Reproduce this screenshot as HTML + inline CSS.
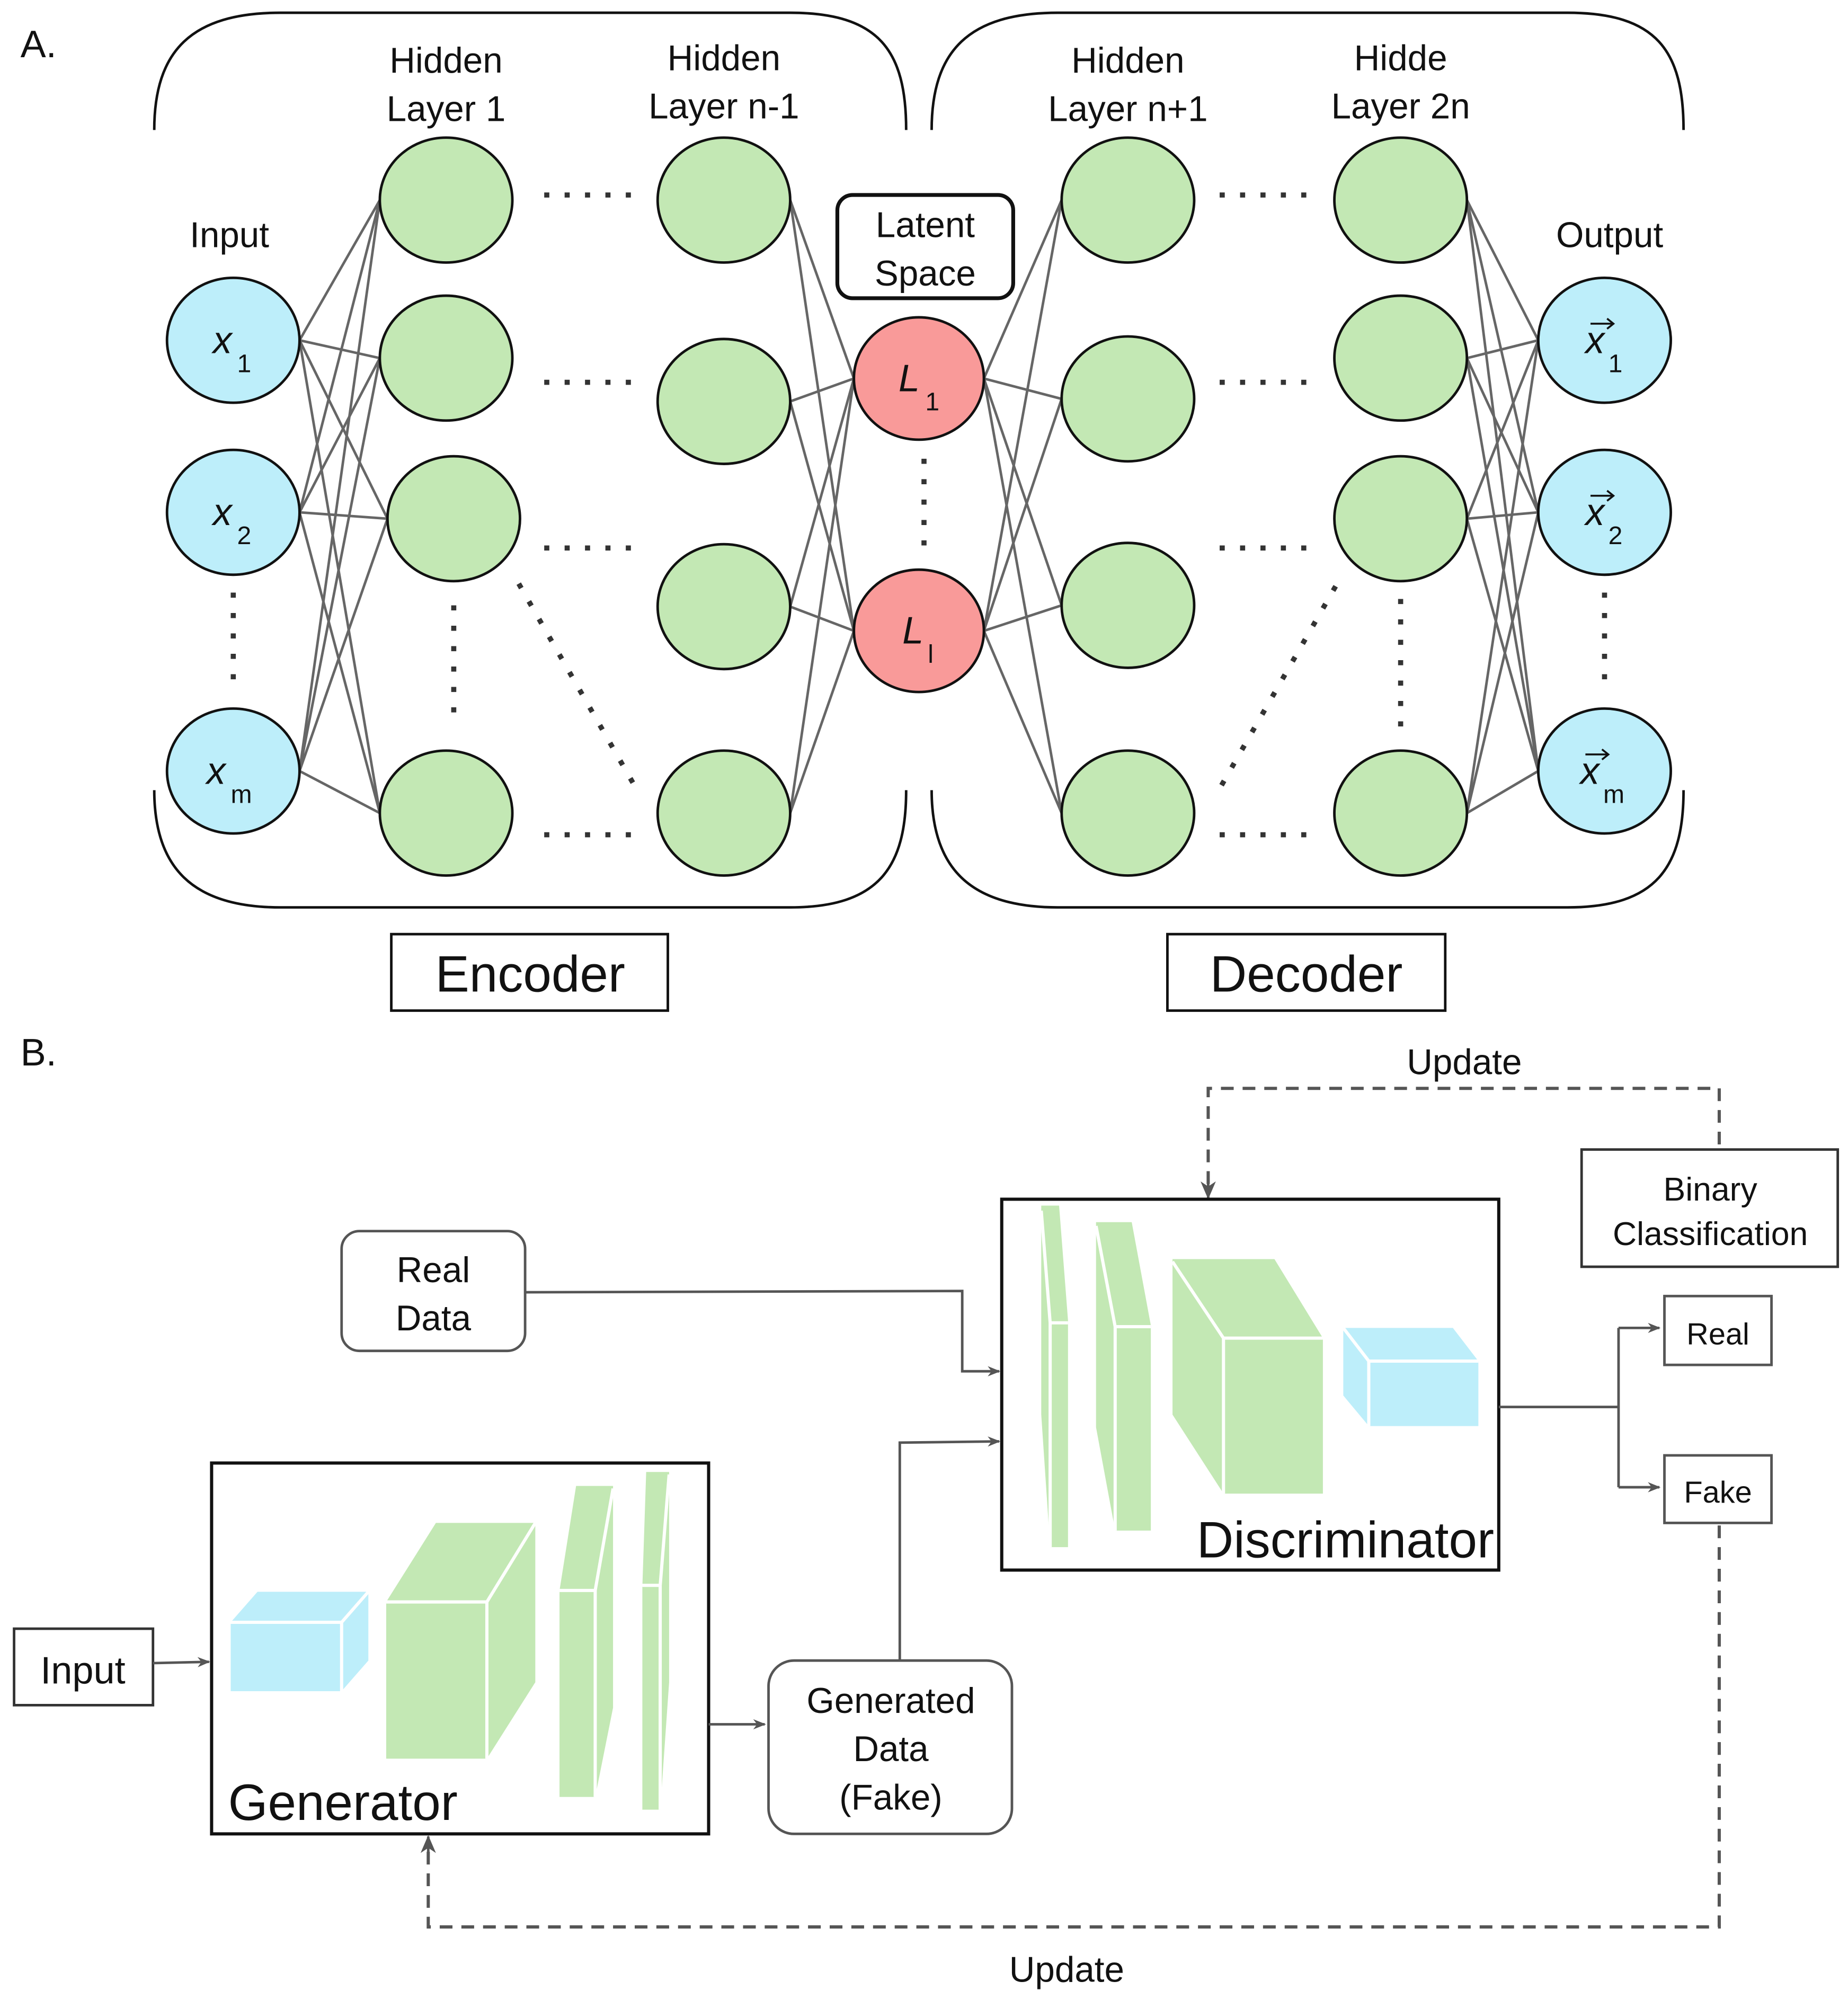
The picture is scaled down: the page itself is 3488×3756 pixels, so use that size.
<!DOCTYPE html>
<html><head><meta charset="utf-8"><style>
html,body{margin:0;padding:0;background:#fff;}
svg{display:block;}
text{font-family:"Liberation Sans",sans-serif;fill:#111;}
</style></head><body>
<svg width="3488" height="3756" viewBox="0 0 1450 1561.5" xmlns="http://www.w3.org/2000/svg">
<defs>
<marker id="ah" markerWidth="10" markerHeight="10" refX="9" refY="5" orient="auto" markerUnits="userSpaceOnUse"><path d="M0,1 L10,5 L0,9 L3,5 Z" fill="#555"/></marker>
<marker id="ah2" markerWidth="14" markerHeight="14" refX="13" refY="7" orient="auto" markerUnits="userSpaceOnUse"><path d="M0,1 L14,7 L0,13 L4,7 Z" fill="#555"/></marker>
</defs>
<text x="16" y="45" font-size="30">A.</text>
<text x="16" y="836" font-size="30">B.</text>

<!-- brackets -->
<g fill="none" stroke="#111" stroke-width="2">
<path d="M121,102 C121,40 150,10 220,10 L620,10 C690,10 711,40 711,102"/>
<path d="M121,620 C121,680 150,712 220,712 L620,712 C690,712 711,680 711,620"/>
<path d="M731,102 C731,40 760,10 830,10 L1230,10 C1300,10 1321,40 1321,102"/>
<path d="M731,620 C731,680 760,712 830,712 L1230,712 C1300,712 1321,680 1321,620"/>
</g>

<!-- connections -->
<g stroke="#666" stroke-width="2">
<line x1="235" y1="267" x2="298" y2="157"/><line x1="235" y1="267" x2="298" y2="281"/><line x1="235" y1="267" x2="304" y2="407"/><line x1="235" y1="267" x2="298" y2="638"/>
<line x1="235" y1="402" x2="298" y2="157"/><line x1="235" y1="402" x2="298" y2="281"/><line x1="235" y1="402" x2="304" y2="407"/><line x1="235" y1="402" x2="298" y2="638"/>
<line x1="235" y1="605" x2="298" y2="157"/><line x1="235" y1="605" x2="298" y2="281"/><line x1="235" y1="605" x2="304" y2="407"/><line x1="235" y1="605" x2="298" y2="638"/>
<line x1="620" y1="157" x2="670" y2="297"/><line x1="620" y1="157" x2="670" y2="495"/>
<line x1="620" y1="315" x2="670" y2="297"/><line x1="620" y1="315" x2="670" y2="495"/>
<line x1="620" y1="476" x2="670" y2="297"/><line x1="620" y1="476" x2="670" y2="495"/>
<line x1="620" y1="638" x2="670" y2="297"/><line x1="620" y1="638" x2="670" y2="495"/>
<line x1="772" y1="297" x2="833" y2="157"/><line x1="772" y1="297" x2="833" y2="313"/><line x1="772" y1="297" x2="833" y2="475"/><line x1="772" y1="297" x2="833" y2="638"/>
<line x1="772" y1="495" x2="833" y2="157"/><line x1="772" y1="495" x2="833" y2="313"/><line x1="772" y1="495" x2="833" y2="475"/><line x1="772" y1="495" x2="833" y2="638"/>
<line x1="1151" y1="157" x2="1207" y2="267"/><line x1="1151" y1="157" x2="1207" y2="402"/><line x1="1151" y1="157" x2="1207" y2="605"/>
<line x1="1151" y1="281" x2="1207" y2="267"/><line x1="1151" y1="281" x2="1207" y2="402"/><line x1="1151" y1="281" x2="1207" y2="605"/>
<line x1="1151" y1="407" x2="1207" y2="267"/><line x1="1151" y1="407" x2="1207" y2="402"/><line x1="1151" y1="407" x2="1207" y2="605"/>
<line x1="1151" y1="638" x2="1207" y2="267"/><line x1="1151" y1="638" x2="1207" y2="402"/><line x1="1151" y1="638" x2="1207" y2="605"/>
</g>

<!-- dotted -->
<g stroke="#333" stroke-width="4" stroke-dasharray="4,12" fill="none">
<line x1="427" y1="153" x2="500" y2="153"/><line x1="427" y1="300" x2="500" y2="300"/><line x1="427" y1="430" x2="500" y2="430"/><line x1="427" y1="655" x2="500" y2="655"/>
<line x1="957" y1="153" x2="1030" y2="153"/><line x1="957" y1="300" x2="1030" y2="300"/><line x1="957" y1="430" x2="1030" y2="430"/><line x1="957" y1="655" x2="1030" y2="655"/>
<line x1="183" y1="465" x2="183" y2="545"/><line x1="356" y1="475" x2="356" y2="570"/><line x1="725" y1="360" x2="725" y2="440"/>
<line x1="1099" y1="470" x2="1099" y2="570"/><line x1="1259" y1="465" x2="1259" y2="545"/>
<line x1="407" y1="458" x2="497" y2="615"/><line x1="1048" y1="460" x2="958" y2="617"/>
</g>

<!-- nodes -->
<g stroke="#111" stroke-width="2">
<g fill="#bdeefa">
<ellipse cx="183" cy="267" rx="52" ry="49"/><ellipse cx="183" cy="402" rx="52" ry="49"/><ellipse cx="183" cy="605" rx="52" ry="49"/>
<ellipse cx="1259" cy="267" rx="52" ry="49"/><ellipse cx="1259" cy="402" rx="52" ry="49"/><ellipse cx="1259" cy="605" rx="52" ry="49"/>
</g>
<g fill="#c3e8b4">
<ellipse cx="350" cy="157" rx="52" ry="49"/><ellipse cx="350" cy="281" rx="52" ry="49"/><ellipse cx="356" cy="407" rx="52" ry="49"/><ellipse cx="350" cy="638" rx="52" ry="49"/>
<ellipse cx="568" cy="157" rx="52" ry="49"/><ellipse cx="568" cy="315" rx="52" ry="49"/><ellipse cx="568" cy="476" rx="52" ry="49"/><ellipse cx="568" cy="638" rx="52" ry="49"/>
<ellipse cx="885" cy="157" rx="52" ry="49"/><ellipse cx="885" cy="313" rx="52" ry="49"/><ellipse cx="885" cy="475" rx="52" ry="49"/><ellipse cx="885" cy="638" rx="52" ry="49"/>
<ellipse cx="1099" cy="157" rx="52" ry="49"/><ellipse cx="1099" cy="281" rx="52" ry="49"/><ellipse cx="1099" cy="407" rx="52" ry="49"/><ellipse cx="1099" cy="638" rx="52" ry="49"/>
</g>
<g fill="#f99a99">
<ellipse cx="721" cy="297" rx="51" ry="48"/><ellipse cx="721" cy="495" rx="51" ry="48"/>
</g>
</g>
<rect x="657" y="153" width="138" height="81" rx="12" fill="#fff" stroke="#111" stroke-width="3"/>
<text x="726" y="186" font-size="28" text-anchor="middle">Latent</text>
<text x="726" y="224" font-size="28" text-anchor="middle">Space</text>

<!-- labels -->
<g font-size="28" text-anchor="middle">
<text x="350" y="57">Hidden</text><text x="350" y="95">Layer 1</text>
<text x="568" y="55">Hidden</text><text x="568" y="93">Layer n-1</text>
<text x="885" y="57">Hidden</text><text x="885" y="95">Layer n+1</text>
<text x="1099" y="55">Hidde</text><text x="1099" y="93">Layer 2n</text>
<text x="180" y="194">Input</text><text x="1263" y="194">Output</text>
</g>
<g font-size="30" font-style="italic">
<text x="167" y="277">x</text><text x="186" y="292" font-size="20" font-style="normal">1</text>
<text x="167" y="412">x</text><text x="186" y="427" font-size="20" font-style="normal">2</text>
<text x="162" y="615">x</text><text x="181" y="630" font-size="20" font-style="normal">m</text>
<text x="1244" y="277">x</text><text x="1262" y="292" font-size="20" font-style="normal">1</text>
<text x="1244" y="412">x</text><text x="1262" y="427" font-size="20" font-style="normal">2</text>
<text x="1240" y="615">x</text><text x="1258" y="630" font-size="20" font-style="normal">m</text>
<text x="705" y="307">L</text><text x="726" y="322" font-size="20" font-style="normal">1</text>
<text x="708" y="505">L</text><text x="728" y="520" font-size="20" font-style="normal">l</text>
</g>
<g stroke="#111" stroke-width="1.5" fill="none">
<path d="M1248,254 L1266,254 M1261,250 L1266,254 L1261,258"/>
<path d="M1248,389 L1266,389 M1261,385 L1266,389 L1261,393"/>
<path d="M1244,592 L1262,592 M1257,588 L1262,592 L1257,596"/>
</g>

<rect x="307" y="733" width="217" height="60" fill="none" stroke="#111" stroke-width="2"/>
<text x="416" y="778" font-size="40" text-anchor="middle">Encoder</text>
<rect x="916" y="733" width="218" height="60" fill="none" stroke="#111" stroke-width="2"/>
<text x="1025" y="778" font-size="40" text-anchor="middle">Decoder</text>

<!-- PART B -->
<g fill="none" stroke="#555" stroke-width="2.5" stroke-dasharray="10,7">
<path d="M1349,898 L1349,854 L948,854 L948,935"/>
<path d="M1349,1197 L1349,1512 L336,1512 L336,1445"/>
</g>
<path d="M948,925 L948,940" stroke="#555" stroke-width="2" marker-end="url(#ah2)"/>
<path d="M336,1455 L336,1441" stroke="#555" stroke-width="2" marker-end="url(#ah2)"/>
<text x="1149" y="843" font-size="28" text-anchor="middle">Update</text>
<text x="837" y="1555" font-size="28" text-anchor="middle">Update</text>

<rect x="1241" y="902" width="201" height="92" fill="#fff" stroke="#333" stroke-width="2"/>
<text x="1342" y="942" font-size="26" text-anchor="middle">Binary</text>
<text x="1342" y="977" font-size="26" text-anchor="middle">Classification</text>

<rect x="786" y="941" width="390" height="291" fill="#fff" stroke="#111" stroke-width="2.5"/>
<g fill="#c3e8b4">
<polygon points="817,946 831,946 838,1036 838,1214 824,1214 817,1110"/>
<polygon points="860,959 888,959 903,1040 903,1201 875,1201 860,1120"/>
<polygon points="920,988 1000,988 1038,1050 1038,1172 960,1172 920,1110"/>
</g>
<polygon points="1054,1042 1140,1042 1160,1068 1160,1119 1074,1119 1054,1095" fill="#bdeefa"/>
<g stroke="#fff" stroke-width="2.5">
<line x1="824" y1="1038" x2="838" y2="1038"/><line x1="824" y1="1038" x2="824" y2="1214"/><line x1="817" y1="950" x2="824" y2="1038"/>
<line x1="875" y1="1041" x2="903" y2="1041"/><line x1="875" y1="1041" x2="875" y2="1201"/><line x1="860" y1="962" x2="875" y2="1041"/>
<line x1="960" y1="1050" x2="1038" y2="1050"/><line x1="960" y1="1050" x2="960" y2="1172"/><line x1="920" y1="990" x2="960" y2="1050"/>
<line x1="1074" y1="1068" x2="1160" y2="1068"/><line x1="1074" y1="1068" x2="1074" y2="1119"/><line x1="1054" y1="1042" x2="1074" y2="1068"/>
</g>
<text x="939" y="1222" font-size="40">Discriminator</text>

<rect x="268" y="966" width="144" height="94" rx="14" fill="#fff" stroke="#555" stroke-width="2"/>
<text x="340" y="1006" font-size="28" text-anchor="middle">Real</text>
<text x="340" y="1044" font-size="28" text-anchor="middle">Data</text>
<path d="M412,1014 L755,1013 L755,1076 L784,1076" fill="none" stroke="#555" stroke-width="2" marker-end="url(#ah)"/>

<rect x="166" y="1148" width="390" height="291" fill="#fff" stroke="#111" stroke-width="2.5"/>
<polygon points="181,1273 202,1249 289,1249 289,1303 268,1327 181,1327" fill="#bdeefa"/>
<polygon points="303,1257 342,1195 420,1195 420,1320 382,1380 303,1380" fill="#c3e8b4"/>
<polygon points="439,1248 452,1166 481,1166 481,1340 467,1410 439,1410" fill="#c3e8b4"/>
<polygon points="504,1245 507,1155 525,1155 525,1320 518,1420 504,1420" fill="#c3e8b4"/>
<g stroke="#fff" stroke-width="2.5">
<line x1="181" y1="1273" x2="268" y2="1273"/><line x1="268" y1="1273" x2="268" y2="1327"/><line x1="268" y1="1273" x2="289" y2="1249"/>
<line x1="303" y1="1257" x2="382" y2="1257"/><line x1="382" y1="1257" x2="382" y2="1380"/><line x1="382" y1="1257" x2="420" y2="1195"/>
<line x1="439" y1="1248" x2="467" y2="1248"/><line x1="467" y1="1248" x2="467" y2="1410"/><line x1="467" y1="1248" x2="481" y2="1168"/>
<line x1="504" y1="1244" x2="518" y2="1244"/><line x1="518" y1="1244" x2="518" y2="1420"/><line x1="518" y1="1244" x2="525" y2="1157"/>
</g>
<text x="179" y="1428" font-size="40">Generator</text>

<rect x="11" y="1278" width="109" height="60" fill="#fff" stroke="#333" stroke-width="2"/>
<text x="65" y="1321" font-size="30" text-anchor="middle">Input</text>
<path d="M120,1305 L164,1304" stroke="#555" stroke-width="2" marker-end="url(#ah)"/>
<path d="M556,1353 L600,1353" stroke="#555" stroke-width="2" marker-end="url(#ah)"/>

<rect x="603" y="1303" width="191" height="136" rx="20" fill="#fff" stroke="#555" stroke-width="2"/>
<text x="699" y="1344" font-size="28" text-anchor="middle">Generated</text>
<text x="699" y="1382" font-size="28" text-anchor="middle">Data</text>
<text x="699" y="1420" font-size="28" text-anchor="middle">(Fake)</text>
<path d="M706,1303 L706,1132 L784,1131" fill="none" stroke="#555" stroke-width="2" marker-end="url(#ah)"/>

<path d="M1176,1104 L1270,1104" stroke="#555" stroke-width="2"/>
<path d="M1270,1042 L1270,1167" stroke="#555" stroke-width="2"/>
<path d="M1270,1042 L1302,1042" stroke="#555" stroke-width="2" marker-end="url(#ah)"/>
<path d="M1270,1167 L1302,1167" stroke="#555" stroke-width="2" marker-end="url(#ah)"/>
<rect x="1306" y="1017" width="84" height="54" fill="#fff" stroke="#555" stroke-width="2"/>
<text x="1348" y="1055" font-size="24" text-anchor="middle">Real</text>
<rect x="1306" y="1142" width="84" height="53" fill="#fff" stroke="#555" stroke-width="2"/>
<text x="1348" y="1179" font-size="24" text-anchor="middle">Fake</text>
</svg>
</body></html>
